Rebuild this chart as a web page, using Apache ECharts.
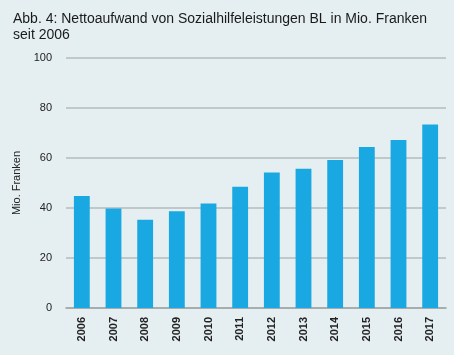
<!DOCTYPE html>
<html><head><meta charset="utf-8">
<script src="https://cdn.jsdelivr.net/npm/echarts@6/dist/echarts.min.js"></script>
<style>html,body{margin:0;padding:0;background:#e5eff1;}#c{width:454px;height:355px;}</style>
</head><body><div id="c"></div>
<script>
const years = ['2006','2007','2008','2009','2010','2011','2012','2013','2014','2015','2016','2017'];
const values = [44.8, 39.8, 35.3, 38.7, 41.8, 48.5, 54.2, 55.7, 59.2, 64.4, 67.2, 73.4];
const yTicks = [0, 20, 40, 60, 80, 100];
const titleText = 'Abb. 4: Nettoaufwand von Sozialhilfeleistungen BL in Mio. Franken\nseit 2006';
const yName = 'Mio. Franken';

const chart = echarts.init(document.getElementById('c'), null, {renderer: 'canvas'});
chart.setOption({
  backgroundColor: '#e5eff1',
  animation: false,
  title: {
    text: titleText, left: 8, top: 6,
    textStyle: {fontFamily: 'Liberation Sans', fontSize: 14, fontWeight: 'normal', color: '#1a1a1a', lineHeight: 16}
  },
  grid: {left: 66, right: 8, top: 58, bottom: 47},
  xAxis: {
    type: 'category', data: years,
    axisLine: {lineStyle: {color: '#9aa4a6', width: 1.5}},
    axisTick: {show: false},
    axisLabel: {rotate: 90, margin: 9, fontFamily: 'Liberation Sans', fontSize: 11, fontWeight: 'bold', color: '#222'}
  },
  yAxis: {
    type: 'value', min: yTicks[0], max: yTicks[yTicks.length-1], interval: 20,
    name: yName, nameLocation: 'middle', nameGap: 38, nameRotate: 90,
    nameTextStyle: {fontFamily: 'Liberation Sans', fontSize: 11, color: '#222'},
    axisLine: {show: false}, axisTick: {show: false},
    axisLabel: {margin: 14, fontFamily: 'Liberation Sans', fontSize: 11, color: '#222'},
    splitLine: {lineStyle: {color: '#b3bcbd', width: 1.5}}
  },
  series: [{
    type: 'bar', data: values, barWidth: '50%',
    itemStyle: {color: '#1aa8e2'}
  }]
});
</script></body></html>
